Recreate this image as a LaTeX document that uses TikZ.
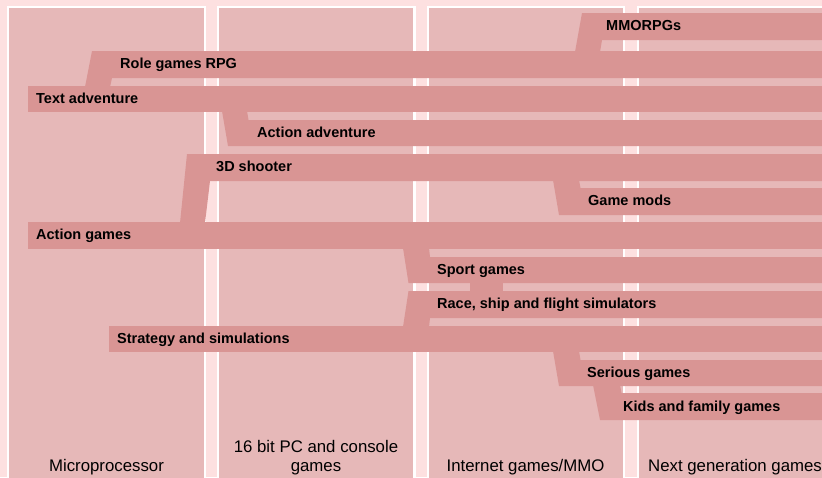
\documentclass[tikz,border=0pt]{standalone}
\usepackage{fontspec}
\setmainfont{Liberation Sans}
\definecolor{bgpink}{RGB}{253,224,224}
\definecolor{panelpink}{RGB}{230,184,184}
\definecolor{barpink}{RGB}{217,149,148}
\begin{document}
\begin{tikzpicture}[x=1pt,y=-1pt,
  panelbox/.style={fill=panelpink,draw=white,line width=2.4pt},
  barshape/.style={fill=barpink},
  barlabel/.style={anchor=base west,inner sep=0pt,font=\fontsize{14.5}{16}\selectfont\bfseries},
  collabel/.style={anchor=base,inner sep=0pt,align=center,font=\fontsize{16.8}{18.5}\selectfont}]
\fill[bgpink] (0,0) rectangle (822,477);
\useasboundingbox (0,0) rectangle (822,477);
\begin{scope}
\clip (0,0) rectangle (822,477);
% era panels
\draw[panelbox] (8,7) rectangle (205,495);
\draw[panelbox] (218,7) rectangle (414.5,495);
\draw[panelbox] (428,7) rectangle (624,495);
\draw[panelbox] (638,7) rectangle (845,495);
% genre bars
\fill[barshape] (575,52) -- (582,13) -- (830,13) -- (830,40) -- (602,40) -- (600,52) -- cycle; % MMORPGs
\fill[barshape] (85,87) -- (92,51) -- (830,51) -- (830,78) -- (112,78) -- (110,87) -- cycle; % RPG
\fill[barshape] (28,86) rectangle (830,112); % Text adventure
\fill[barshape] (222,111) -- (247,111) -- (248.5,120) -- (830,120) -- (830,146) -- (228,146) -- cycle; % Action adventure
\fill[barshape] (180,223) -- (187,154) -- (830,154) -- (830,181) -- (210,181) -- (205,223) -- cycle; % 3D shooter
\fill[barshape] (553,180) -- (579,180) -- (580.5,188) -- (830,188) -- (830,215) -- (559,215) -- cycle; % Game mods
\fill[barshape] (28,222) rectangle (830,249); % Action games
\fill[barshape] (403,248) -- (429,248) -- (430,257) -- (830,257) -- (830,283) -- (408.5,283) -- cycle; % Sport games
\fill[barshape] (408.5,291) -- (830,291) -- (830,318) -- (430,318) -- (429,327) -- (403,327) -- cycle; % Race
\fill[barshape] (470,282) rectangle (503,292); % sport-race link
\fill[barshape] (109,326) rectangle (830,352); % Strategy
\fill[barshape] (553,351) -- (579,351) -- (580.5,360) -- (830,360) -- (830,386) -- (559,386) -- cycle; % Serious
\fill[barshape] (593,385) -- (620,385) -- (621.5,393) -- (830,393) -- (830,420) -- (600,420) -- cycle; % Kids
\end{scope}
% bar labels
\node[barlabel] (mmo) at (606,30.3) {MMORPGs};
\node[barlabel] (rpg) at (120,68.3) {Role games RPG};
\node[barlabel] (txt) at (36,103.3) {Text adventure};
\node[barlabel] (aadv) at (257,137.3) {Action adventure};
\node[barlabel] (shoot) at (216,171.3) {3D shooter};
\node[barlabel] (mods) at (588,205.3) {Game mods};
\node[barlabel] (act) at (36,239.3) {Action games};
\node[barlabel] (sport) at (437,274.3) {Sport games};
\node[barlabel] (race) at (437,308.3) {Race, ship and flight simulators};
\node[barlabel] (strat) at (117,343.3) {Strategy and simulations};
\node[barlabel] (serious) at (587,377.3) {Serious games};
\node[barlabel] (kids) at (623,411.3) {Kids and family games};
% era labels
\node[collabel] (era1) at (106.5,471) {Microprocessor};
\node[collabel] (era2) at (316,471) {16 bit PC and console\\games};
\node[collabel] (era3) at (525.5,471) {Internet games/MMO};
\node[collabel,anchor=base west] (era4) at (648,471) {Next generation games};
\end{tikzpicture}
\end{document}
